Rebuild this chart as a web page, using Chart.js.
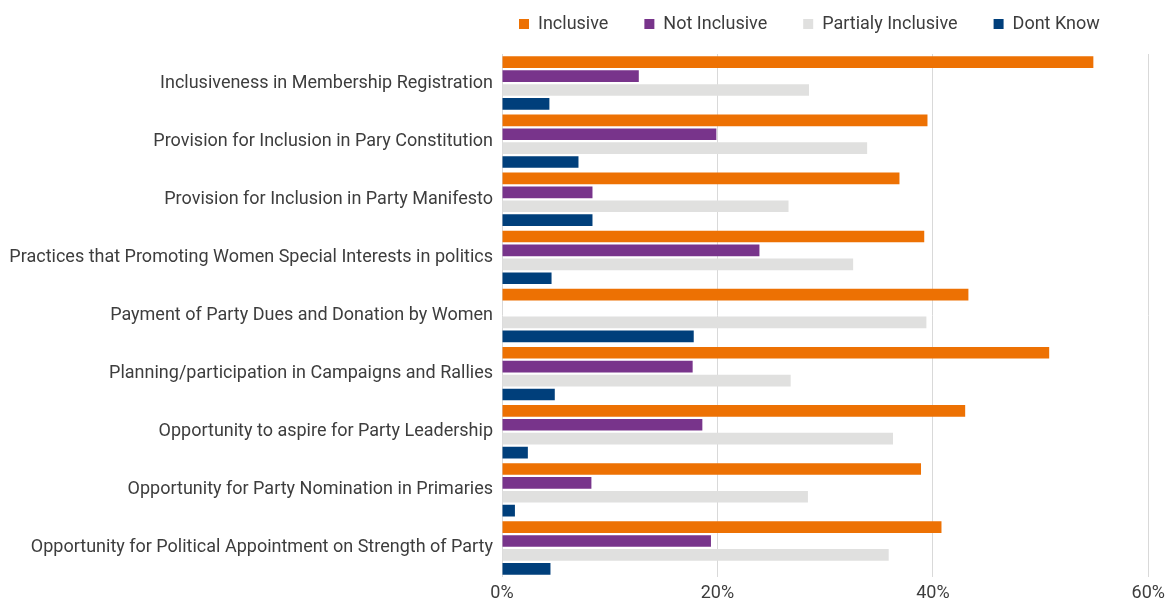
<!DOCTYPE html>
<html>
<head>
<meta charset="utf-8">
<script src="https://cdn.jsdelivr.net/npm/chart.js@4/dist/chart.umd.min.js"></script>
<style>
  html, body { margin: 0; padding: 0; background: #ffffff; }
  #wrap { width: 1171px; height: 600px; position: relative; }
</style>
</head>
<body>
<div id="wrap"><canvas id="c" width="1171" height="600"></canvas></div>
<script>
const categories = [
  "Inclusiveness in Membership Registration",
  "Provision for Inclusion in Pary Constitution",
  "Provision for Inclusion in Party Manifesto",
  "Practices that Promoting Women Special Interests in politics",
  "Payment of Party Dues and Donation by Women",
  "Planning/participation in Campaigns and Rallies",
  "Opportunity to aspire for Party Leadership",
  "Opportunity for Party Nomination in Primaries",
  "Opportunity for Political Appointment on Strength of Party"
];
const seriesNames = ["Inclusive", "Not Inclusive", "Partialy Inclusive", "Dont Know"];
const inclusive        = [54.9, 39.5, 36.9, 39.2, 43.3, 50.8, 43.0, 38.9, 40.8];
const notInclusive     = [12.7, 19.9, 8.4, 23.9, 0, 17.7, 18.6, 8.3, 19.4];
const partialInclusive = [28.5, 33.9, 26.6, 32.6, 39.4, 26.8, 36.3, 28.4, 35.9];
const dontKnow         = [4.4, 7.1, 8.4, 4.6, 17.8, 4.9, 2.4, 1.2, 4.5];
const tickValues = [0, 20, 40, 60];
const tickLabels = ["0%", "20%", "40%", "60%"];

const colors = ["#ED7103", "#78348B", "#E0E0DF", "#003F7B"];
const FONT = "Roboto";
const TEXT = "#3d3d3d";

const legendTweak = {
  id: "legendTweak",
  afterInit(chart) {
    const lg = chart.legend;
    const origFit = lg.fit.bind(lg);
    lg.fit = function () { origFit(); this.height = 54; };
  },
  afterLayout(chart) {
    const lg = chart.legend;
    const pad = lg.options.labels.padding;
    lg.left = 519 - pad;
    lg.top = 23 - pad - 9 + 1;
  }
};

new Chart(document.getElementById("c"), {
  type: "bar",
  data: {
    labels: categories,
    datasets: [
      { label: seriesNames[0], data: inclusive, backgroundColor: colors[0] },
      { label: seriesNames[1], data: notInclusive, backgroundColor: colors[1] },
      { label: seriesNames[2], data: partialInclusive, backgroundColor: colors[2] },
      { label: seriesNames[3], data: dontKnow, backgroundColor: colors[3] }
    ]
  },
  plugins: [legendTweak],
  options: {
    indexAxis: "y",
    responsive: false,
    animation: false,
    devicePixelRatio: 1,
    layout: { padding: { top: 0, right: 21, bottom: 0, left: 0 } },
    datasets: { bar: { categoryPercentage: 0.957, barPercentage: 0.84, borderWidth: 0 } },
    scales: {
      x: {
        min: 0, max: 60,
        afterBuildTicks(scale) { scale.ticks = tickValues.map(v => ({ value: v })); },
        afterFit(scale) { scale.height = 23; },
        grid: { color: "#d9d9d9", lineWidth: 1, drawTicks: false },
        border: { display: false },
        ticks: {
          padding: 6,
          color: TEXT,
          font: { family: FONT, size: 18 },
          callback: (v) => tickLabels[tickValues.indexOf(v)]
        }
      },
      y: {
        afterFit(scale) { scale.width = 502; },
        grid: { display: false, drawTicks: false },
        border: { display: false },
        ticks: {
          padding: 9,
          color: TEXT,
          font: { family: FONT, size: 18 },
          autoSkip: false
        }
      }
    },
    plugins: {
      legend: {
        position: "top",
        align: "start",
        labels: {
          boxWidth: 10,
          boxHeight: 10,
          padding: 36,
          color: TEXT,
          font: { family: FONT, size: 18 }
        }
      },
      tooltip: { enabled: false }
    }
  }
});
</script>
</body>
</html>
